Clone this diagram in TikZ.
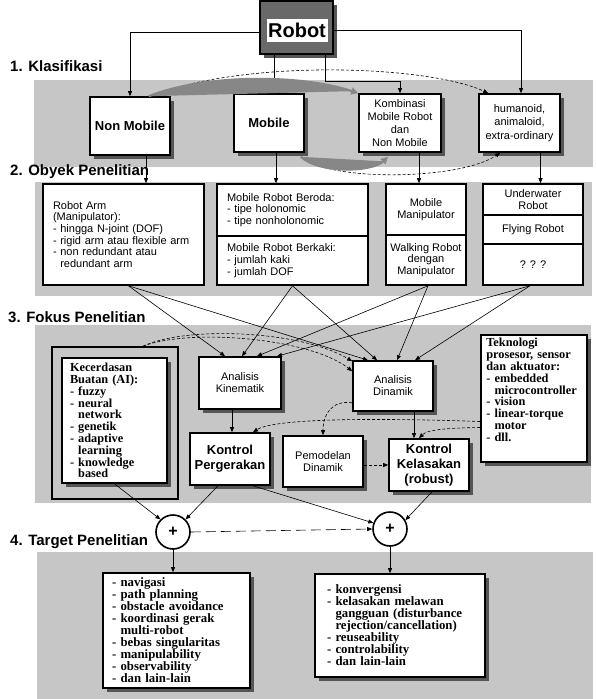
\documentclass[tikz,border=0pt]{standalone}
\usepackage{fontspec}
\setmainfont{Liberation Sans}
\newfontfamily\timesf{Liberation Serif}
\usetikzlibrary{arrows.meta,shadows}
\definecolor{bandc}{RGB}{198,198,198}
\definecolor{shadowc}{RGB}{85,85,85}
\definecolor{robotc}{RGB}{105,105,105}
\definecolor{garrc}{RGB}{135,135,135}
\begin{document}
\begin{tikzpicture}[x=1pt,y=-1pt,
  box/.style={draw, line width=1.6pt, fill=white, inner sep=0pt, align=center},
  shbox/.style={box, drop shadow={shadow xshift=4pt, shadow yshift=-4pt, fill=shadowc, opacity=1}},
  arr/.style={line width=0.6pt, -{Triangle[length=5pt,width=4pt]}},
  darr/.style={arr, dash pattern=on 3pt off 2pt},
  ldarr/.style={arr, dash pattern=on 10pt off 5pt},
  garr/.style={line width=2.2pt, draw=garrc, -{Triangle[length=7pt,width=7pt]}, fill=garrc},
  secl/.style={font=\fontsize{15}{15}\selectfont\bfseries, anchor=west, inner sep=0pt},
  small/.style={font=\fontsize{11}{11.7}\selectfont},
  klas/.style={font=\fontsize{11}{13.2}\selectfont},
  bigb/.style={font=\fontsize{13}{15}\selectfont\bfseries},
  serb/.style={font=\timesf\bfseries\fontsize{12.3}{11.8}\selectfont, align=left},
  tserb/.style={font=\timesf\bfseries\fontsize{12.8}{12}\selectfont, align=left},
  plus/.style={circle, draw, line width=1.6pt, fill=white, minimum size=34pt, inner sep=0pt, font=\fontsize{16}{16}\selectfont\bfseries}
]
\useasboundingbox (0,0) rectangle (596,699);
\fill[white] (0,0) rectangle (596,699);

% bands
\fill[bandc] (34,80) rectangle (593,167);
\fill[bandc] (35,182) rectangle (592,296);
\fill[bandc] (35,325) rectangle (591,503);
\fill[bandc] (37,552) rectangle (593,699);

% section labels
\node[secl] (s1) at (10,66) {1. Klasifikasi};
\node[secl] (s2) at (10,172) {2. Obyek Penelitian};
\node[secl] (s3) at (8,317) {3. Fokus Penelitian};
\node[secl] (s4) at (10,542) {4. Target Penelitian};

% Robot
\node[box, fill=robotc, minimum width=73pt, minimum height=53pt,
  drop shadow={shadow xshift=4pt, shadow yshift=-4pt, fill=shadowc, opacity=1}] (robot) at (296.5,27.5) {};
\node[fill=white, minimum width=61pt, minimum height=23pt, inner sep=0pt,
  font=\fontsize{20}{20}\selectfont\bfseries] (robotlbl) at (297,30.5) {Robot};

% Klasifikasi
\node[shbox, bigb, minimum width=80pt, minimum height=58pt] (nonmob) at (130,126) {Non Mobile};
\node[shbox, bigb, minimum width=70pt, minimum height=58pt] (mobile) at (269,123) {Mobile};
\node[shbox, klas, minimum width=82pt, minimum height=58pt] (komb) at (400,123) {Kombinasi\\Mobile Robot\\dan\\Non Mobile};
\node[shbox, klas, minimum width=81pt, minimum height=58pt] (hum) at (519.5,123) {humanoid,\\animaloid,\\extra-ordinary};

% Obyek
\node[box, small, minimum width=161pt, minimum height=101pt, text width=141pt, align=left] (ra) at (123.5,234.5)
 {Robot Arm\\(Manipulator):\\- hingga N-joint (DOF)\\- rigid arm atau flexible arm\\- non redundant atau\\\phantom{- }redundant arm};
\node[box, small, minimum width=151pt, minimum height=52pt, text width=131pt, align=left] (mrbA) at (292.5,210)
 {Mobile Robot Beroda:\\- tipe holonomic\\- tipe nonholonomic};
\node[box, small, minimum width=151pt, minimum height=49pt, text width=131pt, align=left] (mrbB) at (292.5,260.5)
 {Mobile Robot Berkaki:\\- jumlah kaki\\- jumlah DOF};
\node[box, small, minimum width=80pt, minimum height=51pt] (mmA) at (426,209.5) {Mobile\\Manipulator};
\node[box, small, minimum width=80pt, minimum height=50pt] (mmB) at (426,260) {Walking Robot\\dengan\\Manipulator};
\node[box, small, minimum width=100pt, minimum height=31pt] (uwA) at (533,199.5) {Underwater\\Robot};
\node[box, small, minimum width=100pt, minimum height=29pt] (uwB) at (533,229.5) {Flying Robot};
\node[box, small, minimum width=100pt, minimum height=41pt] (uwC) at (533,264.5) {? ? ?};

% Fokus
\node[draw, line width=1.6pt, fill=bandc, minimum width=126pt, minimum height=152pt, inner sep=0pt] (aiout) at (115,423) {};
\node[shbox, serb, minimum width=105pt, minimum height=125pt, text width=89pt] (ai) at (114.5,420.5)
 {Kecerdasan\\Buatan (AI):\\- fuzzy\\- neural\\\phantom{- }network\\- genetik\\- adaptive\\\phantom{- }learning\\- knowledge\\\phantom{- }based};
\node[shbox, font=\fontsize{11}{12}\selectfont, minimum width=82pt, minimum height=52pt] (ak) at (240,383) {Analisis\\Kinematik};
\node[shbox, font=\fontsize{11}{12}\selectfont, minimum width=80pt, minimum height=50pt] (ad) at (393,386) {Analisis\\Dinamik};
\node[shbox, bigb, minimum width=80pt, minimum height=52pt] (kp) at (230,459) {Kontrol\\Pergerakan};
\node[shbox, font=\fontsize{11}{12}\selectfont, minimum width=80pt, minimum height=51pt] (pd) at (323,461.5) {Pemodelan\\Dinamik};
\node[shbox, bigb, minimum width=80pt, minimum height=52pt] (kk) at (429,465) {Kontrol\\Kelasakan\\(robust)};
\node[shbox, minimum width=106pt, minimum height=127pt] (tek) at (534,398.5) {};
\node[serb, anchor=north west, inner sep=0pt, text width=96pt] (tektxt) at ([xshift=6pt,yshift=-4pt]tek.north west)
 {Teknologi\\prosesor, sensor\\dan aktuator:\\- embedded\\\phantom{- }microcontroller\\- vision\\- linear-torque\\\phantom{- }motor\\- dll.};

% plus circles
\node[plus] (c1) at (173,532) {+};
\node[plus] (c2) at (390,529) {+};

% Target
\node[shbox, tserb, minimum width=147pt, minimum height=115pt, text width=129pt] (t1) at (176.5,630.5)
 {- navigasi\\- path planning\\- obstacle avoidance\\- koordinasi gerak\\\phantom{- }multi-robot\\- bebas singularitas\\- manipulability\\- observability\\- dan lain-lain};
\node[shbox, tserb, minimum width=170pt, minimum height=103pt, text width=146pt] (t2) at (400,625.5)
 {- konvergensi\\- kelasakan melawan\\\phantom{- }gangguan (disturbance\\\phantom{- }rejection/cancellation)\\- reuseability\\- controlability\\- dan lain-lain};

% Robot -> Klasifikasi
\draw[arr] ([yshift=-5pt]robot.west) -| (nonmob.north);
\draw[arr] ([xshift=5pt]mobile.north |- robot.south) -- ([xshift=5pt]mobile.north);
\draw[arr] ([xshift=29pt]robot.south) -- ++(0,26) -| (komb.north);
\draw[arr] ([yshift=-3pt]robot.east) -| ([xshift=1.5pt]hum.north);

% Klasifikasi curves
\draw[darr] ([xshift=-22pt]nonmob.north east) .. controls (250,58) and (430,66) .. ([xshift=10pt]hum.north west);
\draw[garr] ([xshift=-22pt]nonmob.north east) .. controls (205,74) and (300,74) .. (komb.north west);
\draw[darr] ([xshift=-4pt,yshift=-4pt]mobile.south east) .. controls (330,182) and (460,180) .. ([xshift=22pt]hum.south west);
\draw[garr] ([xshift=-4pt,yshift=-4pt]mobile.south east) .. controls (320,174) and (372,172) .. ([xshift=-12pt,yshift=-4pt]komb.south);

% Klasifikasi -> Obyek
\draw[arr] ([xshift=16pt]nonmob.south |- nonmob.south) -- ([xshift=16pt]nonmob.south |- ra.north);
\draw[arr] ([xshift=7pt]mobile.south) -- ([xshift=7pt]mobile.south |- mrbA.north);
\draw[arr] ([xshift=19pt]komb.south) -- ([xshift=19pt]komb.south |- mmA.north);
\draw[arr] ([xshift=21pt]hum.south) -- ([xshift=21pt]hum.south |- uwA.north);

% Obyek -> Fokus
\draw[arr] ([xshift=5pt]ra.south) -- ([xshift=-15pt]ak.north);
\draw[arr] ([xshift=5pt]ra.south) -- ([xshift=-25pt]ad.north);
\draw[arr] (mrbB.south) -- ([xshift=2pt]ak.north);
\draw[arr] (mrbB.south) -- ([xshift=-16pt]ad.north);
\draw[arr] ([xshift=2pt]mmB.south) -- ([xshift=17pt]ak.north);
\draw[arr] ([xshift=2pt]mmB.south) -- ([xshift=4pt]ad.north);
\draw[arr] ([xshift=-3pt]uwC.south) -- ([xshift=37pt]ak.north);
\draw[arr] ([xshift=-3pt]uwC.south) -- ([xshift=22pt]ad.north);

% Fokus internal
\draw[darr] ([xshift=28pt]aiout.north) .. controls (185,326) and (300,330) .. ([yshift=-1pt]ad.north west);
\draw[darr] ([xshift=28pt]aiout.north) .. controls (190,328) and (310,338) .. ([yshift=-11pt]ad.north west);
\draw[arr] ([xshift=-8pt]ak.south) -- ([xshift=-8pt]ak.south |- kp.north);
\draw[arr] ([xshift=21pt]ad.south) -- ([xshift=21pt]ad.south |- kk.north);
\draw[darr] (pd.east |- kk.west) -- (kk.west);
\draw[darr] ([yshift=9pt]ad.south west) .. controls (332,400) and (323,414) .. (pd.north);
\draw[darr] ([yshift=-23pt]tek.west) .. controls (380,418) and (275,418) .. ([xshift=23pt]kp.north);
\draw[darr] ([yshift=-29pt]tek.west) .. controls (452,428) and (428,429) .. ([xshift=-10pt]kk.north);

% Fokus -> Target
\draw[arr] (ai.south) -- (c1.north west);
\draw[arr] ([xshift=-12pt]kp.south) -- (c1.north east);
\draw[arr] ([xshift=23pt]kp.south) -- (c2.160);
\draw[arr] ([xshift=3pt]kk.south) -- (c2.30);
\draw[ldarr] (c1.east) -- (c2.west);
\draw[arr] (c1.south) -- (c1.south |- t1.north);
\draw[arr] (c2.south) -- (c2.south |- t2.north);
\end{tikzpicture}
\end{document}
